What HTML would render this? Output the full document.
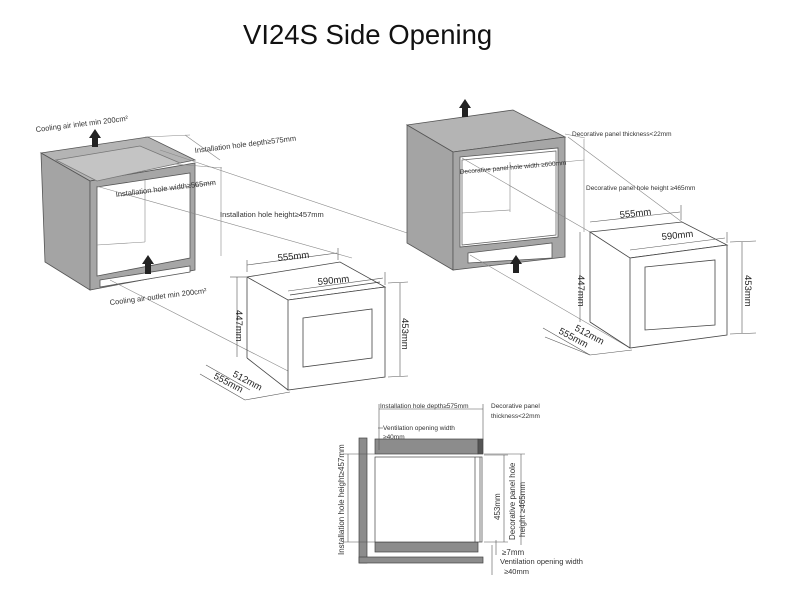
<!DOCTYPE html>
<html><head><meta charset="utf-8"><style>
html,body{margin:0;padding:0;background:#fff;}
svg{display:block;font-family:"Liberation Sans",sans-serif;}
</style></head><body>
<svg width="800" height="595" viewBox="0 0 800 595" xmlns="http://www.w3.org/2000/svg">
<text x="243" y="44" font-size="27.5" fill="#111">VI24S Side Opening</text>

<!-- LEFT DIAGRAM cabinet -->
<g stroke="#555" stroke-width="0.8">
<polygon points="41,153 148,137 195,160 90,181" fill="#b4b4b4"/>
<polygon points="41,153 90,181 90,290 45,262" fill="#a4a4a4"/>
<polygon points="90,181 195,163 195,270 90,290" fill="#a6a6a6"/>
<polygon points="97,187 190,173 190,258 97,276" fill="#fff"/>
<polygon points="100,280 190,266 190,272 100,287" fill="#fff"/>
<polygon points="56,160 140,146 180,163 97,181" fill="#c4c4c4" stroke="#777"/>
</g>
<g stroke="#888" stroke-width="0.6" fill="none">
<line x1="145" y1="180" x2="145" y2="242"/><line x1="97" y1="245" x2="145" y2="242"/>
<line x1="96" y1="186" x2="352" y2="258"/><line x1="110" y1="280" x2="290" y2="372"/>
<line x1="160" y1="150" x2="422" y2="238"/><line x1="145" y1="137" x2="190" y2="135"/>
<line x1="185" y1="135" x2="220" y2="160"/><line x1="175" y1="164" x2="222" y2="168"/>
<line x1="221" y1="167" x2="221" y2="256"/><line x1="117" y1="196" x2="214" y2="183"/>
</g>
<polygon points="89,138 95,129 101,138 98,138 98,147 92,147 92,138" fill="#222"/>
<polygon points="142,264 148,255 154,264 151,264 151,274 145,274 145,264" fill="#222"/>
<g font-size="7.5" fill="#333">
<text x="36" y="132" transform="rotate(-7 36 132)">Cooling air inlet min 200cm²</text>
<text x="195" y="153" transform="rotate(-7 195 153)">Installation hole depth≥575mm</text>
<text x="116" y="197" transform="rotate(-7 116 197)">Installation hole width≥565mm</text>
<text x="220" y="217">Installation hole height≥457mm</text>
<text x="110" y="305" transform="rotate(-7 110 305)">Cooling air outlet min 200cm²</text>
</g>
<!-- left appliance -->
<g stroke="#444" stroke-width="0.8">
<polygon points="247,277 340,262 385,287 288,300" fill="#fff"/>
<polygon points="288,300 385,287 385,377 288,390" fill="#fff"/>
<line x1="247" y1="277" x2="247" y2="358"/><line x1="247" y1="358" x2="288" y2="390"/>
<polygon points="303,318 372,309 372,358 303,367" fill="#fff"/>
<line x1="290" y1="295" x2="380" y2="282"/>
</g>
<g stroke="#555" stroke-width="0.6" fill="none">
<line x1="247" y1="265" x2="337" y2="253"/><line x1="338" y1="248" x2="338" y2="260"/><line x1="247" y1="260" x2="247" y2="272"/>
<line x1="288" y1="291" x2="383" y2="278"/><line x1="385" y1="272" x2="385" y2="285"/>
<line x1="237" y1="277" x2="237" y2="357"/><line x1="230" y1="277" x2="246" y2="277"/>
<line x1="400" y1="283" x2="400" y2="376"/><line x1="388" y1="283" x2="408" y2="282"/><line x1="388" y1="377" x2="408" y2="376"/>
<line x1="206" y1="365" x2="250" y2="390"/><line x1="200" y1="374" x2="245" y2="400"/>
<line x1="245" y1="400" x2="290" y2="392"/>
</g>
<g font-size="9.5" fill="#222">
<text x="278" y="261" transform="rotate(-6 278 261)">555mm</text>
<text x="318" y="285" transform="rotate(-6 318 285)">590mm</text>
<text x="236" y="310" transform="rotate(90 236 310)">447mm</text>
<text x="402" y="318" transform="rotate(90 402 318)">453mm</text>
<text x="232" y="376" transform="rotate(28 232 376)">512mm</text>
<text x="213" y="378" transform="rotate(28 213 378)">555mm</text>
</g>

<!-- RIGHT DIAGRAM cabinet -->
<g stroke="#555" stroke-width="0.8">
<polygon points="407,125 513,110 565,137 453,152" fill="#b4b4b4"/>
<polygon points="407,125 453,152 453,270 407,243" fill="#a4a4a4"/>
<polygon points="453,152 565,137 565,257 453,270" fill="#a6a6a6"/>
<polygon points="460,157 558,148 558,237 460,247" fill="#fff"/>
<polygon points="462,160 556,151 556,235 462,245" fill="none" stroke="#666"/>
<polygon points="468,253 552,243 552,258 468,263" fill="#fff"/>
</g>
<g stroke="#888" stroke-width="0.6" fill="none">
<line x1="510" y1="162" x2="510" y2="212"/><line x1="462" y1="213" x2="510" y2="210"/>
<line x1="462" y1="158" x2="590" y2="232"/><line x1="470" y1="255" x2="630" y2="348"/>
<line x1="568" y1="137" x2="682" y2="222"/><line x1="584" y1="139" x2="584" y2="232"/>
<line x1="460" y1="172" x2="584" y2="160"/><line x1="565" y1="134" x2="585" y2="138"/>
</g>
<polygon points="459,108 465,99 471,108 468,108 468,117 462,117 462,108" fill="#222"/>
<polygon points="510,264 516,255 522,264 519,264 519,273 513,273 513,264" fill="#222"/>
<g font-size="6.5" fill="#333">
<text x="572" y="136">Decorative panel  thickness&lt;22mm</text>
<text x="460" y="174" transform="rotate(-5 460 174)">Decorative panel hole width ≥600mm</text>
<text x="586" y="190">Decorative panel hole height ≥465mm</text>
</g>
<g stroke="#444" stroke-width="0.8">
<polygon points="590,232 682,222 727,245 630,258" fill="#fff"/>
<polygon points="630,258 727,245 727,335 630,348" fill="#fff"/>
<line x1="590" y1="232" x2="590" y2="322"/><line x1="590" y1="322" x2="630" y2="348"/>
<polygon points="645,267 715,260 715,325 645,330" fill="#fff"/>
</g>
<g stroke="#555" stroke-width="0.6" fill="none">
<line x1="590" y1="222" x2="680" y2="212"/><line x1="681" y1="205" x2="681" y2="220"/>
<line x1="630" y1="250" x2="725" y2="238"/><line x1="727" y1="232" x2="727" y2="243"/>
<line x1="580" y1="232" x2="580" y2="322"/>
<line x1="742" y1="242" x2="742" y2="333"/><line x1="730" y1="242" x2="756" y2="241"/><line x1="730" y1="334" x2="756" y2="333"/>
<line x1="543" y1="328" x2="590" y2="355"/><line x1="545" y1="337" x2="590" y2="355"/>
<line x1="590" y1="355" x2="632" y2="350"/>
</g>
<g font-size="9.5" fill="#222">
<text x="620" y="218" transform="rotate(-6 620 218)">555mm</text>
<text x="662" y="240" transform="rotate(-6 662 240)">590mm</text>
<text x="578" y="275" transform="rotate(90 578 275)">447mm</text>
<text x="745" y="275" transform="rotate(90 745 275)">453mm</text>
<text x="574" y="330" transform="rotate(28 574 330)">512mm</text>
<text x="558" y="333" transform="rotate(28 558 333)">555mm</text>
</g>

<!-- BOTTOM DIAGRAM -->
<g stroke="#444" stroke-width="0.7">
<rect x="359" y="438" width="8" height="125" fill="#8c8c8c"/>
<rect x="359" y="557" width="124" height="6" fill="#8c8c8c"/>
<rect x="375" y="439" width="103" height="15" fill="#8c8c8c"/>
<rect x="478" y="439" width="5" height="15" fill="#555"/>
<rect x="375" y="542" width="103" height="10" fill="#8c8c8c"/>
<rect x="375" y="457" width="107" height="85" fill="#fff"/>
<line x1="475" y1="457" x2="475" y2="542"/><line x1="480" y1="457" x2="480" y2="542"/>
</g>
<g stroke="#555" stroke-width="0.6" fill="none">
<line x1="379" y1="409" x2="483" y2="409"/><line x1="379" y1="404" x2="379" y2="450"/><line x1="483" y1="404" x2="483" y2="440"/>
<line x1="348" y1="454" x2="348" y2="542"/><line x1="343" y1="454" x2="375" y2="454"/><line x1="343" y1="542" x2="375" y2="542"/>
<line x1="504" y1="455" x2="504" y2="542"/><line x1="484" y1="455" x2="508" y2="455"/><line x1="484" y1="542" x2="508" y2="542"/>
<line x1="521" y1="454" x2="521" y2="545"/><line x1="484" y1="454" x2="525" y2="454"/>
<line x1="496" y1="540" x2="496" y2="555"/><line x1="492" y1="545" x2="492" y2="575"/>
<line x1="378" y1="428" x2="383" y2="428"/>
</g>
<g font-size="6.5" fill="#333">
<text x="380" y="408">Installation hole depth≥575mm</text>
<text x="491" y="408">Decorative panel</text>
<text x="491" y="418">thickness&lt;22mm</text>
<text x="383" y="430">Ventilation opening width</text>
<text x="383" y="439">≥40mm</text>
<text x="502" y="555" font-size="8">≥7mm</text>
<text x="500" y="564" font-size="7.5">Ventilation opening width</text>
<text x="504" y="574" font-size="7.5">≥40mm</text>
</g>
<g font-size="8" fill="#333">
<text x="344" y="555" transform="rotate(-90 344 555)">Installation hole height≥457mm</text>
<text x="500" y="520" transform="rotate(-90 500 520)">453mm</text>
<text x="515" y="540" transform="rotate(-90 515 540)">Decorative panel hole</text>
<text x="525" y="537" transform="rotate(-90 525 537)">height ≥465mm</text>
</g>
</svg>
</body></html>
